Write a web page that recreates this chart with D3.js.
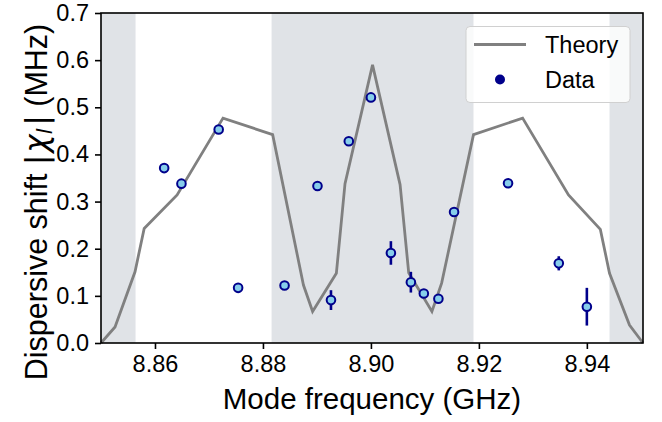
<!DOCTYPE html>
<html>
<head>
<meta charset="utf-8">
<script src="https://cdn.jsdelivr.net/npm/d3@7"></script>
<style>
  body { margin: 0; background: #fff; }
  svg { display: block; font-family: "Liberation Sans", Arial, Helvetica, sans-serif; }
</style>
</head>
<body>
<svg id="chart" width="662" height="422"></svg>
<script>
// Theory curve (frequency GHz, |chi| MHz)
const theoryFreq = [8.8500, 8.8526, 8.8563, 8.8580, 8.8641, 8.8726, 8.8818, 8.8875, 8.8892, 8.8936, 8.8952, 8.9003, 8.9054, 8.9070, 8.9113, 8.9131, 8.9190, 8.9281, 8.9366, 8.9425, 8.9442, 8.9479, 8.9504];
const theoryChi  = [0.000, 0.034, 0.151, 0.243, 0.314, 0.477, 0.442, 0.123, 0.067, 0.148, 0.338, 0.590, 0.336, 0.149, 0.067, 0.127, 0.442, 0.477, 0.314, 0.241, 0.148, 0.038, 0.000];

// Measured data
const dataFreq = [8.8617, 8.8649, 8.8718, 8.8754, 8.8840, 8.8901, 8.8926, 8.8959, 8.9000, 8.9037, 8.9074, 8.9098, 8.9125, 8.9154, 8.9254, 8.9348, 8.9400];
const dataChi  = [0.371, 0.338, 0.453, 0.117, 0.122, 0.333, 0.091, 0.428, 0.521, 0.191, 0.129, 0.105, 0.094, 0.278, 0.339, 0.169, 0.077];
const dataErr  = [0.004, 0.004, 0.004, 0.004, 0.004, 0.004, 0.021, 0.004, 0.004, 0.025, 0.022, 0.004, 0.004, 0.004, 0.004, 0.015, 0.040];

// Shaded frequency bands
const bandStart = [8.8500, 8.8816, 8.9442];
const bandEnd   = [8.8564, 8.9190, 8.9504];

const xTicks = [8.86, 8.88, 8.90, 8.92, 8.94];
const yTicks = [0.0, 0.1, 0.2, 0.3, 0.4, 0.5, 0.6, 0.7];

const svg = d3.select("#chart");
const L = 101, R = 643, T = 13, B = 343;

const x = d3.scaleLinear().domain([8.85, 8.9504]).range([L, R]);
const y = d3.scaleLinear().domain([0, 0.7]).range([B, T]);

// bands
svg.selectAll("rect.band").data(bandStart).enter().append("rect")
  .attr("class", "band")
  .attr("x", (d, i) => x(d))
  .attr("y", T)
  .attr("width", (d, i) => x(bandEnd[i]) - x(d))
  .attr("height", B - T)
  .attr("fill", "#e0e3e7");

// theory line
const line = d3.line().x(d => x(d[0])).y(d => y(d[1]));
svg.append("path")
  .datum(theoryFreq.map((f, i) => [f, theoryChi[i]]))
  .attr("d", line)
  .attr("fill", "none")
  .attr("stroke", "#808080")
  .attr("stroke-width", 2.8)
  .attr("stroke-linejoin", "miter");

// error bars
const pts = dataFreq.map((f, i) => ({f, c: dataChi[i], e: dataErr[i]}));
svg.selectAll("line.err").data(pts).enter().append("line")
  .attr("x1", d => x(d.f)).attr("x2", d => x(d.f))
  .attr("y1", d => y(d.c - d.e)).attr("y2", d => y(d.c + d.e))
  .attr("stroke", "#00008b").attr("stroke-width", 2.6);

// points
svg.selectAll("circle.pt").data(pts).enter().append("circle")
  .attr("cx", d => x(d.f)).attr("cy", d => y(d.c))
  .attr("r", 4.3)
  .attr("fill", "#87ceeb")
  .attr("stroke", "#00008b")
  .attr("stroke-width", 2);

// axes
const xAxis = d3.axisBottom(x).tickValues(xTicks).tickFormat(d3.format(".2f")).tickSizeOuter(0).tickSize(6).tickPadding(6);
const yAxis = d3.axisLeft(y).tickValues(yTicks).tickFormat(d3.format(".1f")).tickSizeOuter(0).tickSize(6).tickPadding(6);

const gx = svg.append("g").attr("transform", `translate(0,${B})`).call(xAxis);
const gy = svg.append("g").attr("transform", `translate(${L},0)`).call(yAxis);
[gx, gy].forEach(g => {
  g.select(".domain").remove();
  g.selectAll(".tick line").attr("stroke", "#000").attr("stroke-width", 1.6);
  g.selectAll(".tick text").attr("fill", "#000").style("font-size", "23.5px")
    .style("font-family", '"Liberation Sans", Arial, sans-serif');
});

// frame
svg.append("rect")
  .attr("x", L).attr("y", T).attr("width", R - L).attr("height", B - T)
  .attr("fill", "none").attr("stroke", "#000").attr("stroke-width", 1.6);

// axis labels
svg.append("text")
  .attr("x", (L + R) / 2).attr("y", 409)
  .attr("text-anchor", "middle")
  .style("font-size", "29.5px")
  .text("Mode frequency (GHz)");

const yl = svg.append("text")
  .attr("transform", `translate(47,202) rotate(-90)`)
  .attr("text-anchor", "middle")
  .style("font-size", "30.5px");
yl.append("tspan").text("Dispersive shift ");
yl.append("tspan").style("font-family", '"DejaVu Sans", sans-serif').text("|");
yl.append("tspan").attr("dx", 2).style("font-style", "italic").style("font-family", '"DejaVu Sans", sans-serif').style("font-size", "31px").text("χ");
yl.append("tspan").style("font-style", "italic").style("font-size", "21px").style("font-family", '"DejaVu Sans", sans-serif').attr("dy", 5).text("l");
yl.append("tspan").attr("dy", -5).attr("dx", 3).style("font-family", '"DejaVu Sans", sans-serif').text("|");
yl.append("tspan").text(" (MHz)");

// legend
const lg = svg.append("g");
lg.append("rect")
  .attr("x", 466).attr("y", 26.5).attr("width", 164).attr("height", 76)
  .attr("rx", 4).attr("ry", 4)
  .attr("fill", "rgba(255,255,255,0.8)")
  .attr("stroke", "#d0d0d0").attr("stroke-width", 1);
lg.append("line")
  .attr("x1", 474).attr("x2", 526).attr("y1", 44.5).attr("y2", 44.5)
  .attr("stroke", "#808080").attr("stroke-width", 2.8);
lg.append("text").attr("x", 545).attr("y", 53).style("font-size", "23.5px").text("Theory");
lg.append("circle").attr("cx", 500).attr("cy", 79.5).attr("r", 5).attr("fill", "#00008b");
lg.append("text").attr("x", 545).attr("y", 88).style("font-size", "23.5px").text("Data");
</script>
</body>
</html>
